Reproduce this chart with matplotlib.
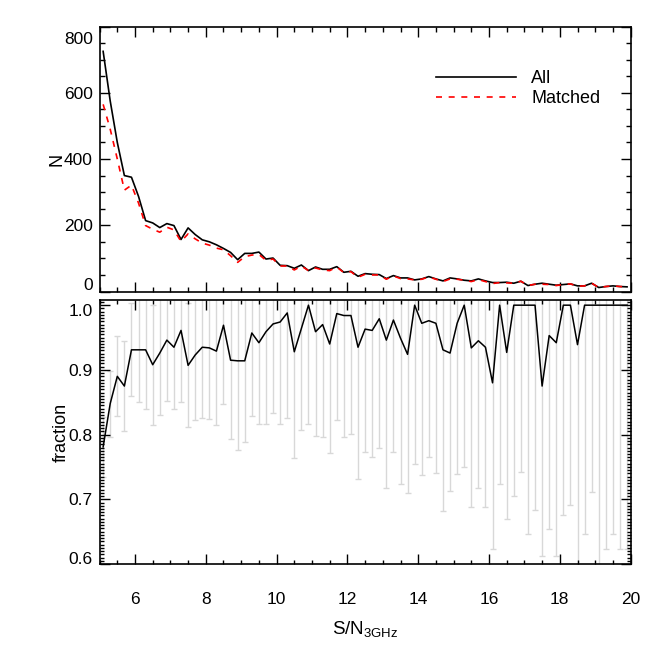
import matplotlib
matplotlib.use('Agg')
import matplotlib.pyplot as plt
import numpy as np
from matplotlib.ticker import MultipleLocator, FixedLocator, NullFormatter
from matplotlib.transforms import ScaledTranslation

plt.rcParams['font.family'] = ['Liberation Sans', 'DejaVu Sans']
plt.rcParams['mathtext.fontset'] = 'custom'
plt.rcParams['mathtext.rm'] = 'Liberation Sans'
plt.rcParams['font.size'] = 12.5

# ---- data (bin centres of S/N_3GHz) ----
snr = [5.1, 5.3, 5.5, 5.7, 5.9, 6.1, 6.3, 6.5, 6.7, 6.9,
       7.1, 7.3, 7.5, 7.7, 7.9, 8.1, 8.3, 8.5, 8.7, 8.9,
       9.1, 9.3, 9.5, 9.7, 9.9, 10.1, 10.3, 10.5, 10.7, 10.9,
       11.1, 11.3, 11.5, 11.7, 11.9, 12.1, 12.3, 12.5, 12.7, 12.9,
       13.1, 13.3, 13.5, 13.7, 13.9, 14.1, 14.3, 14.5, 14.7, 14.9,
       15.1, 15.3, 15.5, 15.7, 15.9, 16.1, 16.3, 16.5, 16.7, 16.9,
       17.1, 17.3, 17.5, 17.7, 17.9, 18.1, 18.3, 18.5, 18.7, 18.9,
       19.1, 19.3, 19.5, 19.7, 19.9]

n_all = [725, 575, 450, 350, 345, 287, 214, 207, 193, 205,
         199, 157, 192, 172, 156, 150, 141, 130, 118, 96,
         115, 115, 119, 98, 101, 79, 78, 70, 80, 63,
         74, 67, 67, 75, 58, 61, 46, 54, 52, 51,
         39, 48, 41, 41, 35, 38, 45, 38, 32, 41,
         38, 34, 32, 38, 32, 27, 27, 28, 25, 31,
         18, 22, 25, 22, 19, 21, 23, 17, 17, 25,
         12, 15, 17, 15, 14]

n_matched = [565, 490, 400, 306, 321, 267, 199, 188, 179, 194,
             186, 151, 174, 159, 146, 140, 131, 126, 108, 88,
             105, 110, 112, 94, 98, 77, 77, 65, 77, 63,
             71, 65, 63, 74, 57, 60, 43, 52, 50, 50,
             37, 47, 39, 38, 35, 37, 44, 37, 30, 38,
             37, 34, 30, 36, 30, 24, 27, 26, 25, 31,
             18, 22, 22, 21, 18, 21, 23, 16, 17, 25,
             12, 15, 17, 15, 14]

frac = [0.781, 0.848, 0.890, 0.875, 0.931, 0.931, 0.931, 0.908, 0.926, 0.946,
        0.935, 0.961, 0.907, 0.923, 0.935, 0.934, 0.929, 0.969, 0.915, 0.914,
        0.914, 0.957, 0.942, 0.959, 0.971, 0.974, 0.988, 0.928, 0.964, 1.0,
        0.959, 0.970, 0.940, 0.987, 0.984, 0.984, 0.935, 0.963, 0.961, 0.979,
        0.946, 0.977, 0.949, 0.924, 1.0, 0.972, 0.976, 0.972, 0.931, 0.926,
        0.972, 1.0, 0.934, 0.945, 0.935, 0.880, 1.0, 0.927, 1.0, 1.0,
        1.0, 1.0, 0.875, 0.953, 0.942, 1.0, 1.0, 0.939, 1.0, 1.0,
        1.0, 1.0, 1.0, 1.0, 1.0]

frac_lo = [0.735, 0.797, 0.828, 0.806, 0.859, 0.851, 0.839, 0.815, 0.830, 0.852,
           0.840, 0.851, 0.811, 0.823, 0.826, 0.824, 0.815, 0.847, 0.793, 0.776,
           0.789, 0.828, 0.816, 0.816, 0.833, 0.816, 0.826, 0.764, 0.807, 0.817,
           0.798, 0.796, 0.771, 0.823, 0.796, 0.801, 0.732, 0.773, 0.766, 0.780,
           0.718, 0.773, 0.723, 0.710, 0.754, 0.737, 0.765, 0.741, 0.682, 0.713,
           0.739, 0.750, 0.688, 0.718, 0.688, 0.623, 0.723, 0.669, 0.705, 0.742,
           0.647, 0.683, 0.613, 0.654, 0.613, 0.675, 0.691, 0.550, 0.647, 0.712,
           0.550, 0.623, 0.647, 0.623, 0.623]

frac_err = np.array(frac) - np.array(frac_lo)

# ---- figure ----
W = H = 664
fig = plt.figure(figsize=(6.64, 6.64), dpi=100)
L, R = 99.6, 630.6
ax1 = fig.add_axes([L / W, 1 - 291.5 / H, (R - L) / W, 265 / H])
ax2 = fig.add_axes([L / W, 1 - 564 / H, (R - L) / W, 264 / H])

ax1.plot(snr, n_all, color='black', lw=1.2, label='All', zorder=3)
ax1.plot(snr, n_matched, color='red', lw=1.2, linestyle=(0, (3.6, 4.0)),
         label='Matched', zorder=4)

ax2.errorbar(snr, frac, yerr=frac_err, fmt='none', ecolor='#d8d8d8',
             elinewidth=1.0, capsize=2, capthick=1.0, zorder=1)
ax2.plot(snr, frac, color='black', lw=1.1, zorder=3)

for ax in (ax1, ax2):
    ax.set_xlim(5, 20)
    ax.xaxis.set_major_locator(FixedLocator([6, 8, 10, 12, 14, 16, 18, 20]))
    ax.xaxis.set_minor_locator(MultipleLocator(0.5))
    ax.tick_params(which='both', direction='in', top=True, right=True, width=1.0)
    ax.tick_params(which='major', length=7)
    for s in ax.spines.values():
        s.set_linewidth(1.2)

ax1.tick_params(which='minor', length=3.6)
ax2.tick_params(which='minor', length=3.0)
ax1.tick_params(axis='y', which='major', pad=5)
ax2.tick_params(axis='y', which='major', pad=5)
ax2.tick_params(axis='x', which='major', pad=20)

ax1.set_ylim(0, 800)
ax1.yaxis.set_major_locator(FixedLocator([0, 200, 400, 600, 800]))
ax1.yaxis.set_minor_locator(MultipleLocator(50))
ax1.xaxis.set_major_formatter(NullFormatter())

ax2.set_ylim(0.6, 1.008)
ax2.yaxis.set_major_locator(FixedLocator([0.6, 0.7, 0.8, 0.9, 1.0]))
ax2.yaxis.set_minor_locator(MultipleLocator(0.005))
ax2.set_yticklabels(['0.6', '0.7', '0.8', '0.9', '1.0'])
ax1.set_yticklabels(['0', '200', '400', '600', '800'])

# IDL-like inward shift of the extreme y tick labels
def shift(label, dy_px):
    label.set_transform(label.get_transform() +
                        ScaledTranslation(0, dy_px / 100.0, fig.dpi_scale_trans))

lab1 = ax1.get_yticklabels()
shift(lab1[0], 8)
shift(lab1[-1], -11)
lab2 = ax2.get_yticklabels()
shift(lab2[0], 6)
shift(lab2[-1], -5)

ax1.set_ylabel('N', labelpad=-1, fontsize=13)
ax2.set_ylabel('fraction', labelpad=-1, fontsize=13)
ax2.set_xlabel(r'S/N$_{\mathregular{3GHz}}$', labelpad=9, fontsize=13.5)

ax1.legend(loc='upper right', bbox_to_anchor=(0.943, 0.835), frameon=False,
           handlelength=4.4, handletextpad=0.85, labelspacing=0.15,
           borderaxespad=0, borderpad=0, fontsize=13)

fig.savefig('out.png', dpi=100)
